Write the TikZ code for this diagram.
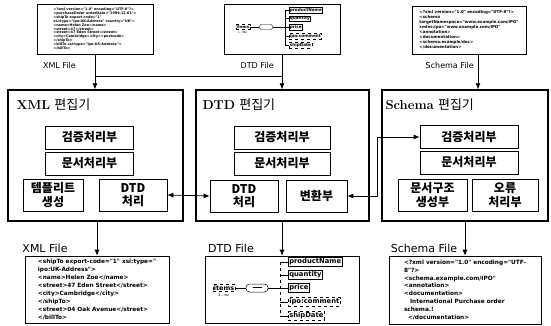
\documentclass[tikz,border=0pt]{standalone}
\usepackage{fontspec}
\newfontfamily\kr{Noto Sans CJK KR}
\newfontfamily\lblfont{DejaVu Sans}
\usetikzlibrary{arrows.meta,positioning}

\begin{document}
\begin{tikzpicture}[x=1pt,y=-1pt,
  edbox/.style={draw, line width=1.4pt, minimum width=#1, minimum height=131pt, inner sep=0pt},
  box/.style={draw, line width=0.7pt, minimum width=#1, inner sep=0pt, align=center,
              font=\kr\bfseries\fontsize{12}{13.5}\selectfont},
  title/.style={anchor=west, inner sep=0pt, font=\fontsize{13}{15}\selectfont},
  thumb/.style={draw, line width=0.6pt, inner sep=0pt, align=left},
  codeA/.style={font=\lblfont\bfseries\fontsize{3.4}{3.85}\selectfont},
  codeB/.style={font=\lblfont\bfseries\fontsize{4}{5}\selectfont},
  codeC/.style={font=\lblfont\bfseries\fontsize{5.8}{7.9}\selectfont},
  elem/.style={draw, line width=0.5pt, anchor=west, inner sep=1pt},
  lbl/.style={inner sep=0pt, font=\lblfont\fontsize{8}{9}\selectfont},
  lblB/.style={inner sep=0pt, font=\lblfont\fontsize{11}{12}\selectfont},
  arr/.style={-{Latex[length=6pt,width=5pt]}, line width=0.8pt},
  dbl/.style={{Latex[length=6pt,width=5pt]}-{Latex[length=6pt,width=5pt]}, line width=0.8pt}]
\useasboundingbox (0,0) rectangle (551,326);

% input files
\node[thumb, codeA, minimum width=116pt, minimum height=50pt] (xtop) at (95,29)
  {<?xml version="1.0" encoding="UTF-8"?>\\
   <purchaseOrder orderDate="1999-12-01">\\
   <shipTo export-code="1"\\
   xsi:type="ipo:UK-Address" country="UK">\\
   <name>Helen Zoe</name>\\
   <street>47</street>\\
   <street>47 Eden Street</street>\\
   <city>Cambridge</city><postcode>\\
   </shipTo>\\
   <billTo xsi:type="ipo:US-Address">\\
   </billTo>};
\node[thumb, minimum width=116pt, minimum height=50pt] (dtop) at (282,29) {};
\node[thumb, codeB, minimum width=114pt, minimum height=48pt] (stop) at (469,30)
  {<?xml version="1.0" encoding="UTF-8"?>\\
   <schema\\
   targetNamespace="www.example.com/IPO"\\
   xmlns:ipo="www.example.com/IPO"\\
   <annotation>\\
   <documentation>\\
   <schema.example/doc>\\
   </documentation>};
\node[lbl, anchor=east] (xtl) at (76,66) {XML File};
\node[lbl, anchor=east] (dtl) at (274,66) {DTD File};
\node[lbl, anchor=east] (stl) at (474,66) {Schema File};

% DTD tree, top
\node[elem, dashed, anchor=center, line width=0.4pt, inner sep=0.8pt,
      font=\lblfont\bfseries\fontsize{4}{4.5}\selectfont] (troot) at (243,27) {items};
\node[inner sep=0pt, font=\lblfont\fontsize{2.5}{3}\selectfont, below=1.5pt of troot] (tcard) {1..$\infty$};
\node[draw, line width=0.4pt, rounded corners=2pt, minimum width=13pt, minimum height=5pt, inner sep=0pt] (tseq) at (266,27) {};
\coordinate (tbr) at (285,27);
\draw[line width=0.4pt] (troot) -- (tseq) -- (tbr);
\foreach \n/\t/\y/\s in {1/productName/10/solid, 2/quantity/18.5/solid, 3/price/27/solid,
                         4/ipo:comment/36/dashed, 5/shipDate/45/dashed}{
  \node[elem, \s, line width=0.4pt, inner sep=0.7pt, font=\lblfont\bfseries\fontsize{4.2}{4.6}\selectfont] (t\n) at (289,\y) {\t};
  \draw[line width=0.4pt] (tbr |- t\n) -- (t\n.west);
}
\draw[line width=0.4pt] (tbr |- t1) -- (tbr |- t5);

% editors
\node[edbox=175pt] (xed) at (95.5,155.5) {};
\node[edbox=173pt] (ded) at (282.5,155.5) {};
\node[edbox=166pt] (sed) at (465,155.5) {};
\node[title] (xtt) at ([xshift=9pt,yshift=-15pt]xed.north west) {\textbf{XML} {\kr 편집기}};
\node[title] (dtt) at ([xshift=7pt,yshift=-15pt]ded.north west) {\textbf{DTD} {\kr 편집기}};
\node[title] (stt) at ([xshift=4pt,yshift=-15pt]sed.north west) {\textbf{Schema} {\kr 편집기}};

\node[box=88pt, minimum height=23pt] (xv) at (89.5,137.5) {검증처리부};
\node[box=88pt, minimum height=23pt] (xd) at (89.5,163.5) {문서처리부};
\node[box=60pt, minimum height=32pt] (xtp) at (53,195) {템플리트\\생성};
\node[box=68pt, minimum height=32pt] (xdp) at (133,195) {DTD\\처리};

\node[box=96pt, minimum height=23pt] (dv) at (282,137.5) {검증처리부};
\node[box=96pt, minimum height=23pt] (dd) at (282,163.5) {문서처리부};
\node[box=68pt, minimum height=32pt] (ddp) at (244,196) {DTD\\처리};
\node[box=61pt, minimum height=32pt] (dcv) at (316.5,196) {변환부};

\node[box=98pt, minimum height=23pt] (sv) at (469,137) {검증처리부};
\node[box=98pt, minimum height=23pt] (sd) at (469,162.5) {문서처리부};
\node[box=69pt, minimum height=32pt] (sst) at (432.5,195) {문서구조\\생성부};
\node[box=66pt, minimum height=32pt] (ser) at (505,195) {오류\\처리부};

% output files
\node[thumb, codeC, minimum width=144pt, minimum height=67pt] (xbot) at (97,289.5)
  {<shipTo export-code="1" xsi:type="\\
   ipo:UK-Address">\\
   <name>Helen Zoe</name>\\
   <street>47 Eden Street</street>\\
   <city>Cambridge</city>\\
   </shipTo>\\
   <street>04 Oak Avenue</street>\\
   </billTo>};
\node[thumb, minimum width=154pt, minimum height=67pt] (dbot) at (282,289.5) {};
\node[thumb, codeC, minimum width=152pt, minimum height=68pt] (sbot) at (465,290)
  {<?xml version="1.0" encoding="UTF-\\
   8"?>\\
   <schema.example.com/IPO"\\
   <annotation>\\
   <documentation>\\
   \hspace*{6pt}International Purchase order\\
   schema.!\\
   \hspace*{4pt}</documentation>};
\node[lblB] (xbl) at (45,248) {XML File};
\node[lblB] (dbl) at (231,248) {DTD File};
\node[lblB] (sbl) at (424,248) {Schema File};

% DTD tree, bottom
\node[elem, dashed, anchor=center, font=\lblfont\bfseries\fontsize{6.5}{7}\selectfont] (broot) at (224,288) {items};
\node[inner sep=0pt, font=\lblfont\fontsize{4}{5}\selectfont, below=1.5pt of broot] (bcard) {1..$\infty$};
\node[draw, line width=0.5pt, rounded corners=3.5pt, minimum width=22pt, minimum height=8pt, inner sep=0pt] (bseq) at (257,288) {\rule[0.3ex]{9pt}{0.5pt}};
\coordinate (bbr) at (280,288);
\draw[line width=0.5pt] (broot) -- (bseq) -- (bbr);
\foreach \n/\t/\y/\s in {1/productName/262/solid, 2/quantity/275/solid, 3/price/288/solid,
                         4/ipo:comment/302/dashed, 5/shipDate/316/dashed}{
  \node[elem, \s, font=\lblfont\bfseries\fontsize{6.8}{7.5}\selectfont] (b\n) at (288,\y) {\t};
  \draw[line width=0.5pt] (bbr |- b\n) -- (b\n.west);
}
\draw[line width=0.5pt, dashed] (bbr |- b1) -- (bbr |- b5);

% connectors
\coordinate (jn) at (95,76);
\draw[arr] (xtop.south) -- (xtop.south |- xed.north);
\draw[arr] (dtop.south) -- (dtop.south |- ded.north);
\draw[line width=0.8pt] (jn) -- (jn -| dtop.south);
\draw[arr] ([xshift=9pt]stop.south) -- ([xshift=9pt]stop.south |- sed.north);
\draw[dbl] (xdp.east) -- (ddp.west);
\draw[dbl] (dcv.east) -- ++(30,0) |- (sv.west);
\draw[arr] (xbot.north |- xed.south) -- (xbot.north);
\draw[arr] (dbot.north |- ded.south) -- (dbot.north);
\draw[arr] (sbot.north |- sed.south) -- (sbot.north);
\end{tikzpicture}
\end{document}
